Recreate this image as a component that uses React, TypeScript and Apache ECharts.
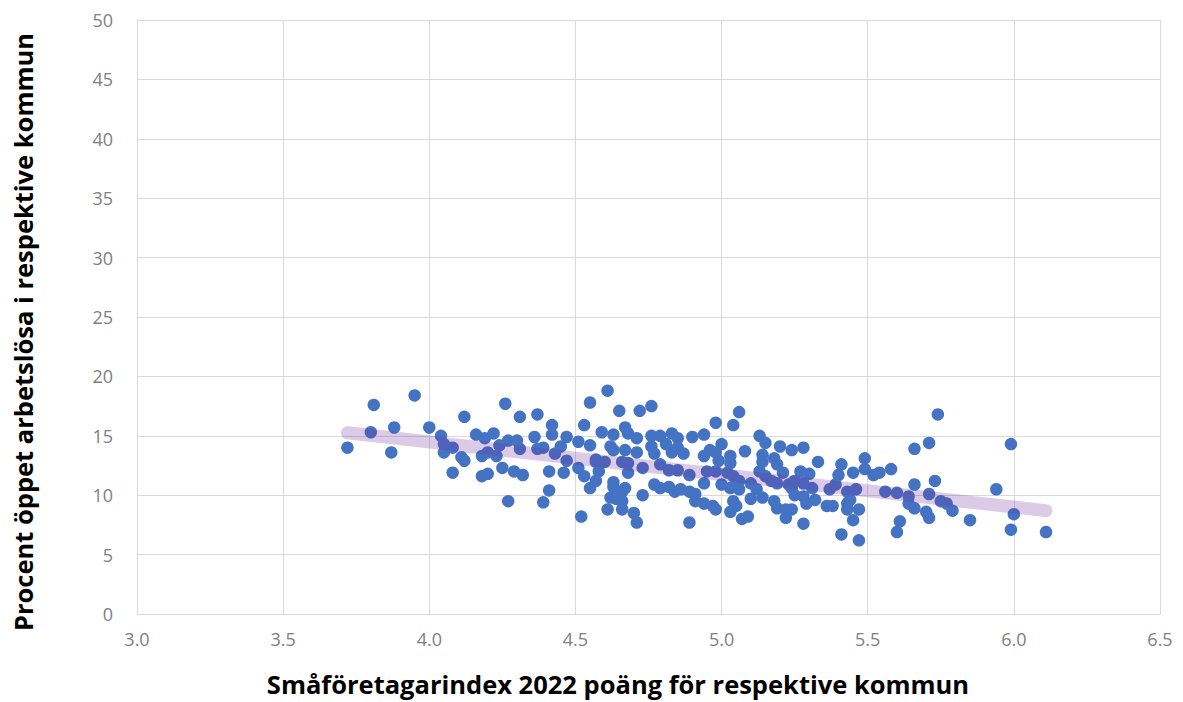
import React, { useEffect, useRef } from "react";
import * as echarts from "echarts";

// Småföretagarindex 2022 (x) per kommun
const indexScores = [
  3.72, 3.81, 3.80, 3.87, 3.88, 3.95, 4.00, 4.04, 4.05, 4.05, 4.08, 4.11, 4.12, 4.08, 4.12, 4.16,
  4.26, 4.31, 4.37, 4.42, 4.42, 4.19, 4.22, 4.18, 4.20, 4.23, 4.24, 4.27, 4.30, 4.31, 4.36, 4.37,
  4.39, 4.43, 4.45, 4.47, 4.51, 4.47, 4.18, 4.20, 4.25, 4.29, 4.32, 4.41, 4.46, 4.51, 4.53, 4.55,
  4.41, 4.27, 4.39, 4.52, 4.55, 4.53, 4.55, 4.57,
  4.61, 4.65, 4.72, 4.76, 4.59, 4.63, 4.67, 4.68, 4.71, 4.76, 4.79, 4.83, 4.85, 4.90, 4.62, 4.63,
  4.67, 4.71, 4.76, 4.77, 4.81, 4.83, 4.85, 4.87, 4.57, 4.58, 4.60, 4.66, 4.68, 4.73, 4.79, 4.82,
  4.85, 4.89, 4.58, 4.57, 4.68, 4.63, 4.63, 4.67, 4.66, 4.77, 4.79, 4.82, 4.84, 4.86, 4.89, 4.91,
  4.73, 4.62, 4.64, 4.66, 4.61, 4.66, 4.70, 4.71, 4.89,
  5.06, 4.98, 5.04, 4.94, 5.00, 5.13, 5.15, 5.08, 5.20, 5.24, 4.96, 4.98, 4.94, 4.99, 5.03, 5.03,
  5.14, 5.14, 5.18, 5.19, 5.21, 4.95, 4.98, 5.02, 5.04, 5.06, 5.10, 5.13, 5.15, 5.17, 5.19, 5.23,
  4.94, 5.00, 5.03, 5.06, 5.12, 4.91, 4.94, 4.97, 4.98, 5.04, 5.05, 5.03, 5.10, 5.14, 5.18, 5.19,
  5.22, 5.22, 5.07, 5.09,
  5.28, 5.33, 5.41, 5.49, 5.45, 5.40, 5.27, 5.30, 5.49, 5.52, 5.54, 5.58, 5.25, 5.28, 5.31, 5.24,
  5.37, 5.39, 5.43, 5.46, 5.56, 5.60, 5.25, 5.28, 5.29, 5.32, 5.36, 5.38, 5.43, 5.44, 5.43, 5.47,
  5.45, 5.24, 5.28, 5.41, 5.47, 5.61, 5.60,
  5.74, 5.71, 5.66, 5.99, 5.66, 5.73, 5.64, 5.71, 5.94, 5.64, 5.66, 5.75, 5.77, 5.79, 5.70, 5.71,
  5.85, 6.00, 5.99, 6.11,
];

// Procent öppet arbetslösa per kommun (y)
const unemployment = [
  14.0, 17.6, 15.3, 13.6, 15.7, 18.4, 15.7, 15.0, 14.3, 13.6, 14.0, 13.2, 12.9, 11.9, 16.6, 15.1,
  17.7, 16.6, 16.8, 15.9, 15.1, 14.8, 15.2, 13.3, 13.6, 13.3, 14.2, 14.6, 14.6, 13.9, 14.9, 13.9,
  14.0, 13.5, 14.1, 14.9, 14.5, 12.9, 11.6, 11.8, 12.3, 12.0, 11.7, 12.0, 11.9, 12.3, 11.6, 10.6,
  10.4, 9.5, 9.4, 8.2, 17.8, 15.9, 14.2, 12.8,
  18.8, 17.1, 17.1, 17.5, 15.3, 15.1, 15.7, 15.2, 14.8, 15.0, 15.0, 15.2, 14.8, 14.9, 14.1, 13.8,
  13.8, 13.6, 14.1, 13.5, 14.3, 13.6, 14.0, 13.5, 13.0, 12.7, 12.8, 12.8, 12.7, 12.3, 12.6, 12.1,
  12.1, 11.7, 12.0, 11.2, 11.9, 11.1, 10.7, 10.6, 10.3, 10.9, 10.6, 10.7, 10.3, 10.5, 10.3, 10.1,
  10.0, 9.8, 9.7, 9.5, 8.8, 8.8, 8.5, 7.7, 7.7,
  17.0, 16.1, 15.9, 15.1, 14.3, 15.0, 14.4, 13.7, 14.1, 13.8, 13.8, 13.6, 13.3, 12.9, 13.3, 12.7,
  13.4, 12.8, 13.1, 12.6, 11.9, 12.0, 12.0, 11.9, 11.6, 11.2, 11.0, 12.0, 11.6, 11.2, 11.0, 10.9,
  11.0, 10.9, 10.6, 10.5, 10.5, 9.5, 9.3, 9.1, 8.8, 9.5, 9.1, 8.6, 9.7, 9.8, 9.5, 8.9,
  8.8, 8.1, 8.0, 8.2,
  14.0, 12.8, 12.6, 13.1, 11.9, 11.7, 12.0, 11.8, 12.2, 11.7, 11.9, 12.2, 11.2, 11.0, 10.6, 10.6,
  10.5, 10.9, 10.3, 10.5, 10.3, 10.2, 10.0, 9.9, 9.3, 9.6, 9.1, 9.1, 9.3, 9.6, 8.8, 8.8,
  7.9, 8.8, 7.6, 6.7, 6.2, 7.8, 6.9,
  16.8, 14.4, 13.9, 14.3, 10.9, 11.2, 9.9, 10.1, 10.5, 9.3, 8.9, 9.5, 9.3, 8.7, 8.6, 8.1,
  7.9, 8.4, 7.1, 6.9,
];

// Linjär trendlinje
const trendX = [3.72, 6.11];
const trendY = [15.25, 8.7];

const xTicks = { min: 3.0, max: 6.5, step: 0.5 };
const yTicks = { min: 0, max: 50, step: 5 };

const xTitle = "Småföretagarindex 2022 poäng för respektive kommun";
const yTitle = "Procent öppet arbetslösa i respektive kommun";

export default function App() {
  const ref = useRef<HTMLDivElement>(null);

  useEffect(() => {
    if (!ref.current) return;
    const chart = echarts.init(ref.current, undefined, { renderer: "svg" });
    const scatterData = indexScores.map((x, i) => [x, unemployment[i]]);
    const trendData = trendX.map((x, i) => [x, trendY[i]]);
    const font = "'Open Sans', 'Liberation Sans', sans-serif";
    chart.setOption({
      animation: false,
      backgroundColor: "#ffffff",
      grid: { left: 137, right: 23, top: 20, bottom: 88, containLabel: false },
      xAxis: {
        type: "value",
        min: xTicks.min,
        max: xTicks.max,
        interval: xTicks.step,
        axisLine: { show: true, lineStyle: { color: "#d9d9d9", width: 1 } },
        axisTick: { show: false },
        splitLine: { show: true, lineStyle: { color: "#d9d9d9", width: 1 } },
        axisLabel: {
          color: "#7f7f7f",
          fontSize: 18,
          fontFamily: font,
          margin: 16,
          formatter: (v: number) => v.toFixed(1),
        },
      },
      yAxis: {
        type: "value",
        min: yTicks.min,
        max: yTicks.max,
        interval: yTicks.step,
        axisLine: { show: true, lineStyle: { color: "#d9d9d9", width: 1 } },
        axisTick: { show: false },
        splitLine: { show: true, lineStyle: { color: "#d9d9d9", width: 1 } },
        axisLabel: { color: "#7f7f7f", fontSize: 18, fontFamily: font, margin: 24 },
      },
      graphic: [
        {
          type: "text",
          x: 618,
          y: 684,
          style: {
            text: xTitle,
            fontSize: 25.5,
            fontWeight: "bold",
            fontFamily: font,
            fill: "#000000",
            align: "center",
            verticalAlign: "middle",
          },
        },
        {
          type: "text",
          x: 23,
          y: 332,
          rotation: Math.PI / 2,
          style: {
            text: yTitle,
            fontSize: 25.5,
            fontWeight: "bold",
            fontFamily: font,
            fill: "#000000",
            align: "center",
            verticalAlign: "middle",
          },
        },
      ],
      series: [
        {
          type: "scatter",
          data: scatterData,
          symbolSize: 12.5,
          itemStyle: { color: "#4473C3", opacity: 1 },
          z: 2,
        },
        {
          type: "line",
          data: trendData,
          symbol: "none",
          lineStyle: { color: "rgba(112, 48, 160, 0.25)", width: 13, cap: "round" },
          z: 3,
        },
      ],
    });
    return () => chart.dispose();
  }, []);

  return (
    <div
      ref={ref}
      style={{ position: "absolute", left: 0, top: 0, width: 1183, height: 702 }}
    />
  );
}
